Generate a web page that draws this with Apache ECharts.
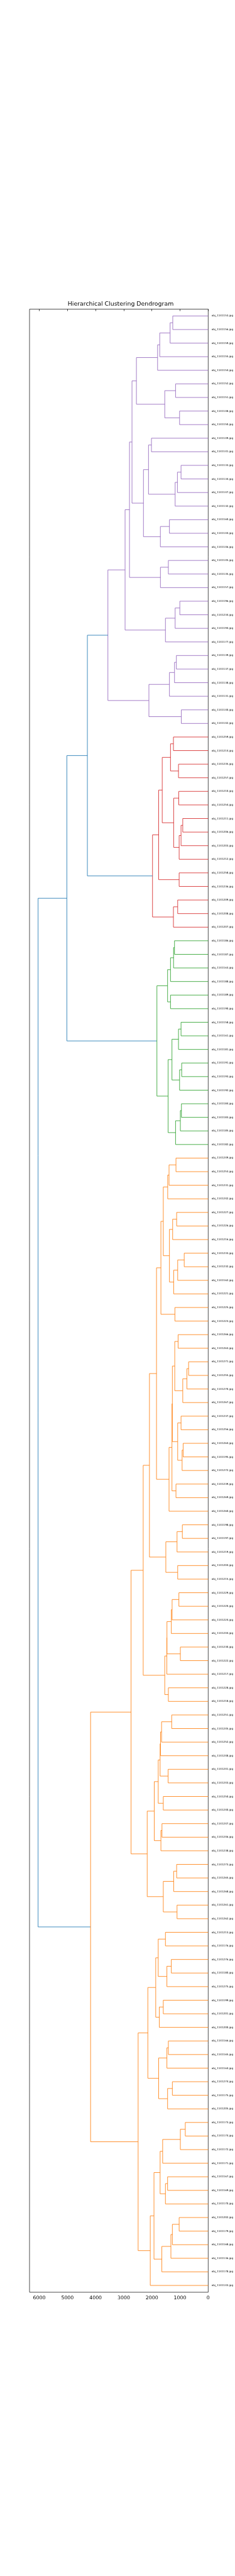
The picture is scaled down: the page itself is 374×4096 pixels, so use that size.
<!DOCTYPE html>
<html>
<head>
<meta charset="utf-8">
<script src="https://cdn.jsdelivr.net/npm/echarts@6/dist/echarts.min.js"></script>
<style>
html,body{margin:0;padding:0;background:#fff;}
#chart{width:374px;height:4096px;}
</style>
</head>
<body>
<div id="chart"></div>
<script>
// ---- data: nested merges [left, right, height]; leaves are ids (obj_1141<id>.jpg) ----
const leafPrefix = 'obj_1141';
const leafSuffix = '.jpg';

const purpleTree = [
  [
    [
      [
        [[[[153,156,1259],159,1353],155,1722],154,1798],
        [[152,151,1159],[148,150,1017],1543],
        2550
      ],
      [
        [[149,141,2016],[[[133,134,965],147,1093],132,1174],2120],
        [[160,144,1377],146,1699],
        2300
      ],
      2707
    ],
    [[145,135,1415],157,1697],
    2796
  ],
  [[[196,234,1008],194,1174],177,1519],
  2953
];
const purpleTreeFull = [purpleTree, [[[[139,137,1131],138,1197],131,1377],[140,142,956],2106], 3563];

const redTree = [
  [
    [
      [[259,214,1235],[235,257,1055],1339],
      [[210,254,1046],[[[211,206,904],203,965],212,1032],1226],
      1633
    ],
    [258,236,1032],
    1760
  ],
  [[209,208,1084],207,1235],
  1978
];

const greenTree = [
  [[[[186,187,1197],163,1230],188,1339],[189,190,1339],1443],
  [
    [[[158,161,965],181,1055],[[191,193,942],192,1017],1287],
    [[[184,183,951],185,989],182,1159],
    1424
  ],
  1822
];

const orangeUpperA = [
  [
    [
      [
        [[[[249,253,1145],231,1391],242,1439],[[[227,226,1121],216,1263],[[[233,232,852],162,1084],221,1226],1377],1595],
        [225,223,1183],
        1680
      ],
      [
        [
          [
            [[266,263,1069],[[[271,255,696],270,757],267,904],1188],
            [[237,256,965],[[264,195,890],272,927],1084],
            1273
          ],
          [239,269,1145],
          1287
        ],
        260,
        1391
      ],
      1836
    ],
    [[[198,197,918],219,1107],[204,215,1084],1505],
    2087
  ],
  [[[[[[229,220,1041],224,1282],244,1311],[230,222,989],1465],217,1469],[228,218,1415],1543],
  2309
];
const orangeUpperB = [
  [
    [[[[[251,245,1297],252,1656],248,1694],[241,243,1424],1708],[250,240,1595],1775],
    [[247,246,1642],238,1680],
    1916
  ],
  [[[273,265,1121],268,1226],[261,262,1107],1595],
  2167
];
const orangeLowerA = [
  [
    [[213,176,1519],[[276,180,1311],275,1467],1775],
    [[199,201,1595],200,1737],
    1864
  ],
  [[[166,165,1415],164,1467],[[274,175,1273],205,1443],1760],
  2144
];
const orangeLowerB = [
  [
    [
      [[[[173,174,814],172,989],171,1618],[[167,169,1443],170,1519],1708],
      [[[[202,179,1032],168,1273],136,1325],178,1647],
      1926
    ],
    143,
    2058
  ],
  null
];
const orangeHeights = [2740, 2489, 4178];

const blueHeights = [4292, 5021, 6043];

const xTickInterval = 1000;
const xMax = 6347;

// ---- build ----
const orangeTree = [
  [orangeUpperA, orangeUpperB, orangeHeights[0]],
  [orangeLowerA, orangeLowerB[0], orangeHeights[1]],
  orangeHeights[2]
];
const fullTree = [[[purpleTreeFull, redTree, blueHeights[0]], greenTree, blueHeights[1]], orangeTree, blueHeights[2]];

const colorOf = new Map([
  [purpleTreeFull, '#9467bd'],
  [redTree, '#d62728'],
  [greenTree, '#2ca02c'],
  [orangeTree, '#ff7f0e']
]);
const blue = '#1f77b4';

const labels = [];
const linkGroups = {};
let leafCount = 0;
function walk(node, color) {
  if (colorOf.has(node)) color = colorOf.get(node);
  if (typeof node === 'number') {
    labels.push(leafPrefix + node + leafSuffix);
    return { y: (leafCount++) + 0.5, h: 0 };
  }
  const a = walk(node[0], color);
  const b = walk(node[1], color);
  (linkGroups[color] = linkGroups[color] || []).push([node[2], a.y, b.y, a.h, b.h]);
  return { y: (a.y + b.y) / 2, h: node[2] };
}
walk(fullTree, blue);

const font = 'DejaVu Sans';
const series = Object.keys(linkGroups).map(function (c) {
  return {
    type: 'custom',
    coordinateSystem: 'cartesian2d',
    xAxisIndex: 0,
    yAxisIndex: 0,
    data: linkGroups[c],
    encode: { x: [0, 3, 4], y: [1, 2] },
    silent: true,
    renderItem: function (params, api) {
      const p1 = api.coord([api.value(3), api.value(1)]);
      const p2 = api.coord([api.value(0), api.value(1)]);
      const p3 = api.coord([api.value(0), api.value(2)]);
      const p4 = api.coord([api.value(4), api.value(2)]);
      return {
        type: 'polyline',
        shape: { points: [p1, p2, p3, p4] },
        style: { stroke: c, lineWidth: 0.85, fill: 'none' }
      };
    }
  };
});

const chart = echarts.init(document.getElementById('chart'), null, { renderer: 'canvas' });
chart.setOption({
  animation: false,
  backgroundColor: '#fff',
  title: {
    text: 'Hierarchical Clustering Dendrogram',
    left: 192,
    textAlign: 'center',
    top: 479,
    padding: 0,
    textStyle: { fontFamily: font, fontSize: 9.4, fontWeight: 'normal', color: '#000' }
  },
  grid: {
    left: 47, right: 36.75, top: 491.6, bottom: 451.2,
    show: true, borderColor: '#000', borderWidth: 0.7, backgroundColor: 'transparent'
  },
  xAxis: {
    type: 'value', inverse: true, min: 0, max: xMax, interval: xTickInterval,
    axisLine: { show: false },
    axisTick: { show: true, inside: false, length: 3, lineStyle: { color: '#000', width: 0.7 } },
    axisLabel: {
      show: true, margin: 5, fontFamily: font, fontSize: 7.8, color: '#000',
      showMaxLabel: false,
      formatter: function (v) { return (v % xTickInterval === 0) ? String(v) : ''; }
    },
    splitLine: { show: false }
  },
  yAxis: [
    { type: 'value', min: 0, max: labels.length, inverse: true, show: false, splitLine: { show: false } },
    {
      type: 'category', position: 'right', inverse: true, data: labels,
      axisLine: { show: false }, axisTick: { show: false }, splitLine: { show: false },
      axisLabel: { interval: 0, margin: 5.5, fontFamily: font, fontSize: 4.1, color: '#000' }
    }
  ],
  series: series
});
</script>
</body>
</html>
